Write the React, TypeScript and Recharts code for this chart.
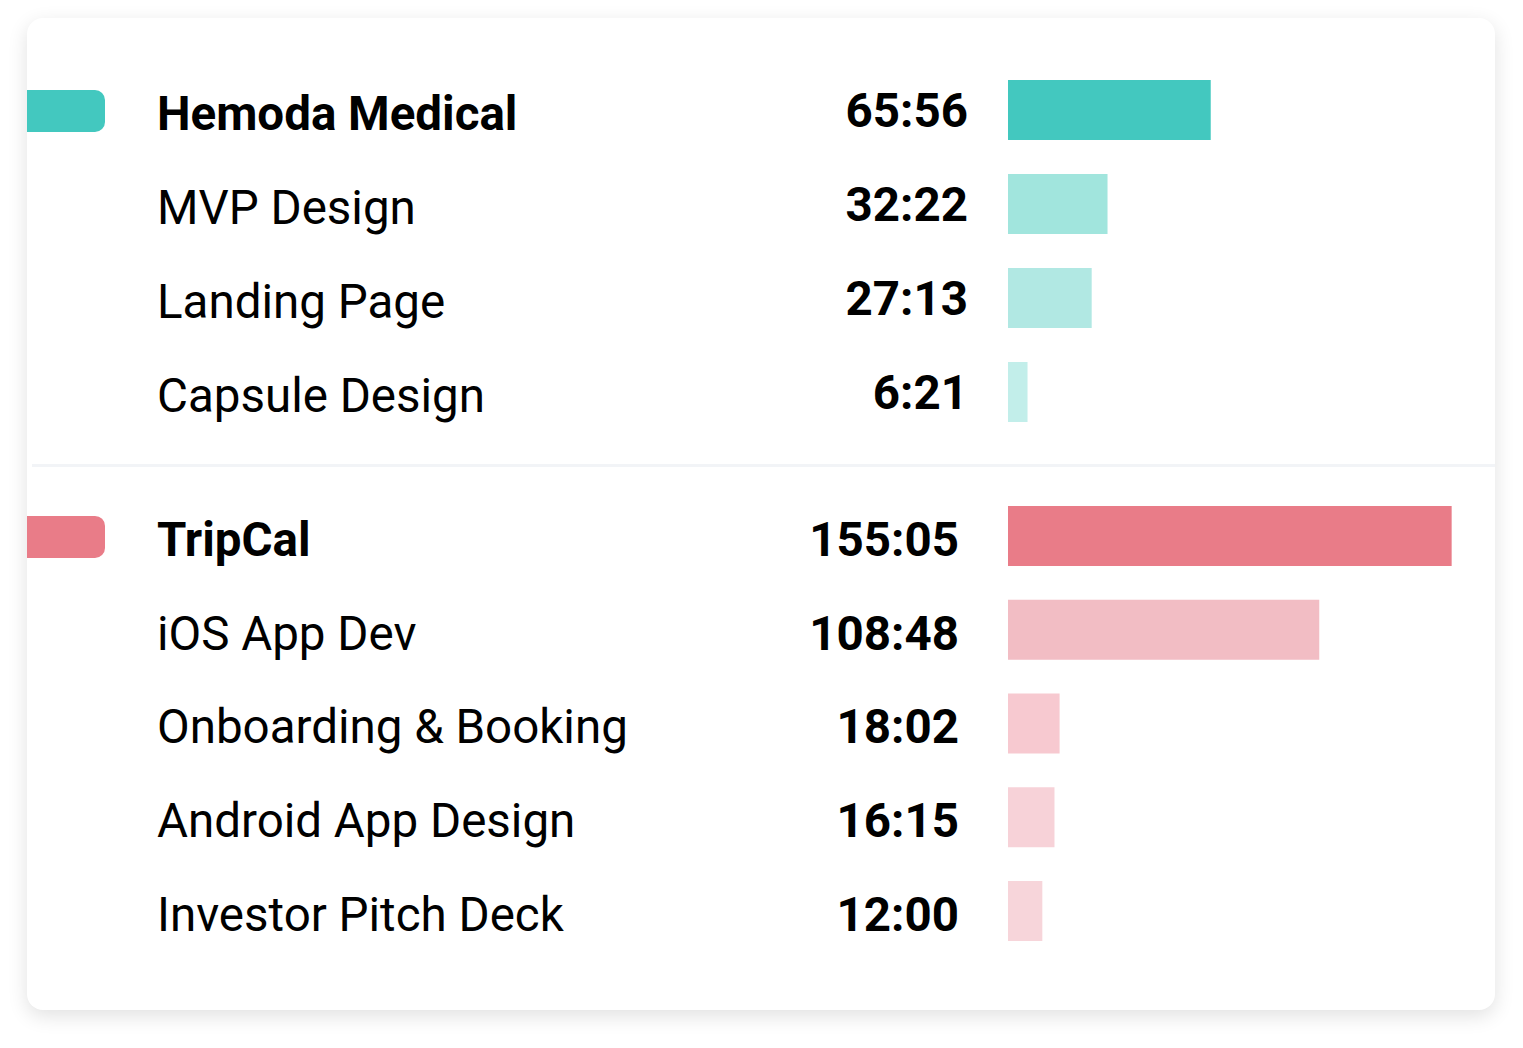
import React from 'react';
import { BarChart, Bar, XAxis, YAxis, Cell } from 'recharts';

// project time summary: two clients, each with their own tasks
const hemodaNames = ['Hemoda Medical', 'MVP Design', 'Landing Page', 'Capsule Design'];
const hemodaTimes = ['65:56', '32:22', '27:13', '6:21'];
const hemodaColors = ['#43C8BF', '#A1E5DD', '#B1E8E3', '#C2EEEA'];

const tripcalNames = ['TripCal', 'iOS App Dev', 'Onboarding & Booking', 'Android App Design', 'Investor Pitch Deck'];
const tripcalTimes = ['155:05', '108:48', '18:02', '16:15', '12:00'];
const tripcalColors = ['#E97C88', '#F2BDC4', '#F7C9D0', '#F7D2D8', '#F7D5DA'];

const FONT = 'Roboto, "Noto Sans", sans-serif';

// "mm:ss" -> minutes as a number, for the bar length
const toMinutes = (t: string) => {
  const [m, s] = t.split(':').map(Number);
  return m + s / 60;
};

const buildRows = (names: string[], times: string[]) =>
  names.map((name, i) => ({ name, time: times[i], minutes: toMinutes(times[i]) }));

const hemodaData = buildRows(hemodaNames, hemodaTimes);
const tripcalData = buildRows(tripcalNames, tripcalTimes);

function makeTick(rows: { name: string; time: string }[], pillColor: string, valueRight: number, valueDy: number) {
  return (props: any) => {
    const { y, payload } = props;
    const idx = rows.findIndex((r) => r.name === payload.value);
    const row = rows[idx];
    if (!row) return <g />;
    const isHeader = idx === 0;
    return (
      <g>
        {isHeader && <rect x={-20} y={y - 20} width={98} height={42} rx={10} fill={pillColor} />}
        <text x={130} y={y + 20} fontFamily={FONT} fontSize={47.5} fontWeight={isHeader ? 700 : 400} fill="#000">
          {row.name}
        </text>
        <text x={valueRight} y={y + valueDy} textAnchor="end" fontFamily={FONT} fontSize={47.5} fontWeight={700} fill="#000">
          {row.time}
        </text>
      </g>
    );
  };
}

function Group({ data, colors, domainMax, rowHeight, valueRight, valueDy }: any) {
  return (
    <BarChart
      width={1433}
      height={rowHeight * data.length}
      data={data}
      layout="vertical"
      margin={{ top: 0, right: 0, bottom: 0, left: 0 }}
    >
      <XAxis type="number" hide domain={[0, domainMax]} />
      <YAxis
        type="category"
        dataKey="name"
        width={981}
        axisLine={false}
        tickLine={false}
        tick={makeTick(data, colors[0], valueRight, valueDy)}
      />
      <Bar dataKey="minutes" barSize={60} isAnimationActive={false}>
        {data.map((d: any, i: number) => (
          <Cell key={d.name} fill={colors[i]} />
        ))}
      </Bar>
    </BarChart>
  );
}

export default function App() {
  return (
    <div style={{ position: 'absolute', left: 0, top: 0, width: 1523, height: 1048, background: '#fff' }}>
      <div
        style={{
          position: 'absolute',
          left: 27,
          top: 18,
          width: 1468,
          height: 992,
          borderRadius: 16,
          background: '#fff',
          boxShadow: '0 6px 20px rgba(0,0,0,0.12)',
          overflow: 'hidden',
        }}
      >
        <div style={{ position: 'absolute', left: 0, top: 44.5 }}>
          <Group data={hemodaData} colors={hemodaColors} domainMax={147} rowHeight={94} valueRight={941} valueDy={17} />
        </div>
        <div style={{ position: 'absolute', left: 5, top: 446, width: 1463, height: 3, background: '#F2F4F7' }} />
        <div style={{ position: 'absolute', left: 0, top: 470.6 }}>
          <Group data={tripcalData} colors={tripcalColors} domainMax={158} rowHeight={93.75} valueRight={932} valueDy={20} />
        </div>
      </div>
    </div>
  );
}
